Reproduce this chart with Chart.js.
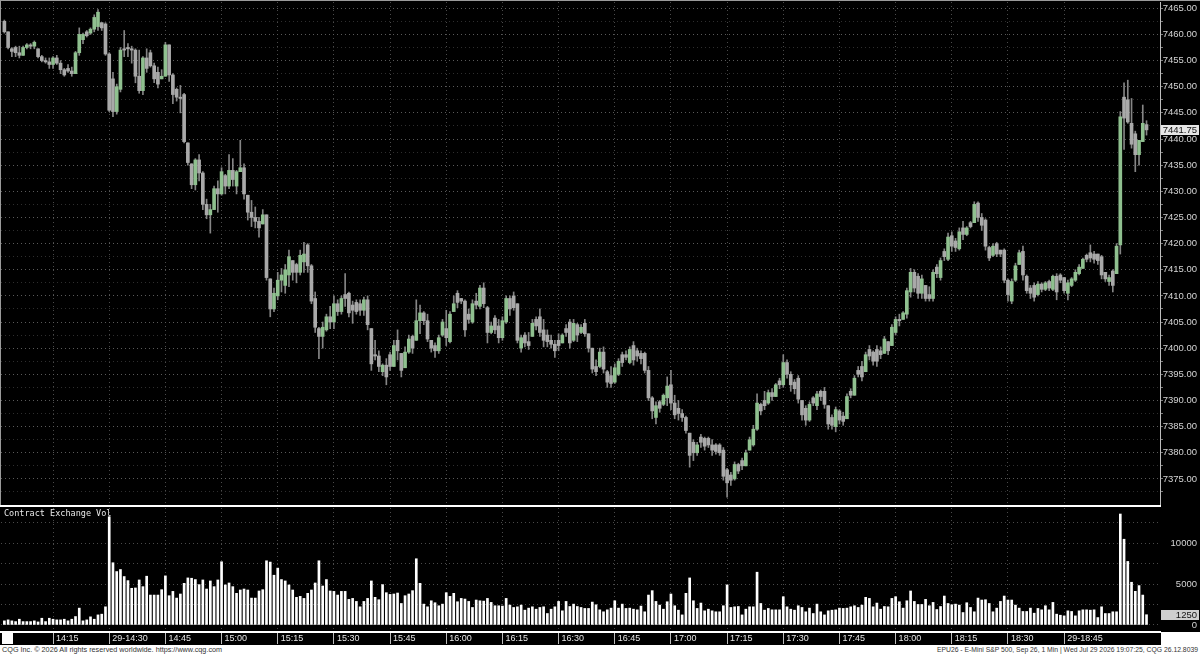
<!DOCTYPE html>
<html>
<head>
<meta charset="utf-8">
<title>EPU26 - E-Mini S&amp;P 500, 1 Min</title>
<script src="https://cdn.jsdelivr.net/npm/chart.js@4.4.1/dist/chart.umd.min.js"></script>
<style>
  body { margin: 0; background: #fff; }
  #wrap { position: relative; width: 1200px; height: 645px; background: #000; overflow: hidden; }
  #priceChart { position: absolute; left: 0; top: 0; }
  #volChart { position: absolute; left: 0; top: 506px; }
  .frame-top { position: absolute; left: 0; top: 0; width: 1200px; height: 1px; background: #9a9a9a; }
  .frame-left { position: absolute; left: 0; top: 0; width: 1px; height: 505px; background: #9a9a9a; }
  .sep { position: absolute; left: 0; top: 505px; width: 1161px; height: 2px; background: #fff; }
  .vol-title { position: absolute; left: 4px; top: 508px; color: #e8e8e8; font: 8.5px "DejaVu Sans Mono", monospace; }
  .corner { position: absolute; left: 2px; top: 633px; width: 11px; height: 11px; background: #fff; }
  .axis-blank { position: absolute; left: 1161px; top: 632px; width: 39px; height: 13px; background: #fff; }
  .footer { position: relative; width: 1200px; height: 10px; font: 7.25px "Liberation Sans", Arial, sans-serif; color: #333; line-height: 10px; }
  .footer .l { position: absolute; left: 2px; top: 0; }
  .footer .r { position: absolute; right: 2px; top: 0; font-size: 6.8px; }
</style>
</head>
<body>
<div id="wrap">
  <canvas id="priceChart" width="1200" height="505"></canvas>
  <canvas id="volChart" width="1200" height="139"></canvas>
  <div class="frame-top"></div>
  <div class="frame-left"></div>
  <div class="sep"></div>
  <div class="vol-title">Contract Exchange Vol</div>
  <div class="corner"></div>
  <div class="axis-blank"></div>
</div>
<div class="footer">
  <span class="l">CQG Inc. © 2026 All rights reserved worldwide. https://www.cqg.com</span>
  <span class="r">EPU26 - E-Mini S&amp;P 500, Sep 26, 1 Min | Wed Jul 29 2026 19:07:25, CQG 26.12.8039</span>
</div>
<script>
// one bar per minute, first bar is 14:02, last is 19:07
const firstMinute = 2

const opens = [
    7462.5, 7460.5, 7457.25, 7457.5, 7456.5, 7456, 7457.5, 7458, 7457.75, 7457.25,
    7455.75, 7455, 7454.75, 7454.25, 7455.5, 7454.5, 7453.25, 7453.5, 7453, 7452.5,
    7456.5, 7459, 7460.5, 7460.25, 7461, 7461.5, 7462.25, 7462, 7456.25, 7451.5,
    7445.25, 7449.5, 7457.25, 7457.5, 7457.25, 7457, 7452, 7449.25, 7455.5, 7456.5,
    7454, 7452.75, 7451.5, 7452, 7458, 7452.25, 7449.5, 7448, 7448.5, 7439.25,
    7435.25, 7431.25, 7436, 7433.5, 7427.5, 7425.5, 7426.5, 7430.5, 7429.5, 7433,
    7431, 7434, 7431, 7433.75, 7434.5, 7429.25, 7426, 7425, 7424.25, 7423.75,
    7425.5, 7413.25, 7407.5, 7410, 7413, 7412, 7414, 7416.75, 7416, 7414.5,
    7416.5, 7419.75, 7415.75, 7409.5, 7403.75, 7402.25, 7403.5, 7406, 7405, 7408.5,
    7407, 7410.25, 7410.5, 7408.25, 7408.75, 7408.5, 7407.25, 7409.25, 7403.75, 7398.75,
    7398.5, 7395.5, 7396.75, 7398.75, 7396.5, 7401.5, 7399, 7396.25, 7399.25, 7402.25,
    7401.5, 7405.25, 7406.75, 7405.25, 7401.5, 7400.5, 7399.5, 7402.5, 7403.75, 7401.25,
    7407, 7410.5, 7409.5, 7409, 7406.5, 7405, 7409, 7408, 7411.5, 7407.75,
    7403, 7405.75, 7404.25, 7402, 7405, 7409.5, 7410, 7408.5, 7400, 7402.5,
    7401.25, 7402.25, 7405.5, 7406, 7403.5, 7402.5, 7401.5, 7400.75, 7401.5, 7401,
    7403.75, 7405, 7401.5, 7404.5, 7403, 7404.75, 7402.75, 7400, 7396.5, 7396.5,
    7399.25, 7395.5, 7394.75, 7393.5, 7395, 7398.75, 7398.75, 7397.25, 7400.5, 7399.5,
    7399, 7399, 7395.75, 7390.5, 7386.75, 7389.75, 7389.25, 7390.5, 7393, 7389.5,
    7388.5, 7387.5, 7386.75, 7383.75, 7382, 7380, 7383, 7382.75, 7382.75, 7381.5,
    7381.5, 7381.5, 7380.5, 7376.75, 7375.75, 7375, 7377.75, 7378.5, 7377.5, 7380.5,
    7381.5, 7384.5, 7389.25, 7390, 7389.5, 7391.5, 7390.75, 7393.75, 7393, 7397.25,
    7395, 7393.5, 7394.25, 7390, 7388.5, 7386.25, 7390.5, 7389, 7391.75, 7391.75,
    7389, 7386.75, 7385, 7388, 7387, 7386.5, 7391.75, 7391, 7395.75, 7396.5,
    7395.5, 7399.75, 7399.25, 7399.75, 7399.5, 7399, 7401.25, 7400.5, 7403, 7405.5,
    7405.5, 7406.5, 7410.75, 7414.5, 7413.75, 7410.5, 7412, 7410.25, 7409.5, 7415.5,
    7413.5, 7418.5, 7417, 7421.5, 7420.5, 7419, 7423, 7421.75, 7424, 7424,
    7427.75, 7425, 7424.5, 7419.25, 7417.75, 7420, 7418.75, 7418.75, 7413, 7409,
    7413, 7416, 7418.5, 7413.75, 7411.5, 7412, 7410.25, 7412.25, 7411.25, 7412.75,
    7411.25, 7413.75, 7414, 7413.5, 7410.5, 7412, 7413, 7414.25, 7415.25, 7417.75,
    7418.25, 7418, 7418, 7417.5, 7414.5, 7412.75, 7414.75, 7414.25, 7419.75, 7448,
    7447.5, 7443, 7441, 7437, 7439.5, 7442.75
]

const highs = [
    7462.75, 7460.5, 7457.5, 7457.75, 7457.75, 7457.75, 7458.25, 7458.25, 7458.75, 7457.25,
    7456, 7455.5, 7455.5, 7455.75, 7456, 7455, 7453.5, 7454.25, 7453.75, 7456.75,
    7461.25, 7460.25, 7460.75, 7461.25, 7463.75, 7464.75, 7462.25, 7462.25, 7456.5, 7452.75,
    7450.5, 7457.5, 7460.75, 7458.25, 7457.75, 7457.25, 7457, 7455.75, 7457.25, 7457,
    7454.5, 7453.75, 7453.25, 7458.5, 7458, 7452.5, 7449.75, 7450.25, 7448.75, 7439.25,
    7435.25, 7436.25, 7437, 7433.75, 7428.5, 7427.5, 7431, 7432, 7434.5, 7433.25,
    7437, 7436.25, 7434, 7439.75, 7435.25, 7429.25, 7428.25, 7427, 7425, 7426.5,
    7425.5, 7413.25, 7411.5, 7414.5, 7415.25, 7416, 7418.75, 7416.75, 7416.25, 7418.75,
    7420.25, 7420, 7416, 7410.75, 7404, 7405, 7406.5, 7408, 7410, 7409.25,
    7410, 7414.25, 7410.75, 7409, 7409.25, 7409.25, 7409.75, 7410, 7403.75, 7401.5,
    7399.5, 7397, 7398, 7399.25, 7401.5, 7403.5, 7399, 7400.25, 7402.5, 7402.5,
    7409.25, 7408.25, 7407, 7406.5, 7401.5, 7401, 7402.5, 7405.5, 7407.25, 7407,
    7410, 7411, 7409.5, 7409.25, 7407.5, 7409.25, 7410.5, 7412, 7412.5, 7408,
    7405, 7406.25, 7405.5, 7406, 7410, 7410, 7410.75, 7408.5, 7402.5, 7403,
    7403, 7405.5, 7406, 7407.5, 7405.5, 7403.5, 7402.5, 7401.5, 7402.75, 7402.75,
    7404.5, 7405.5, 7405.5, 7404.75, 7404.5, 7405.5, 7402.75, 7400, 7397.75, 7400,
    7400.25, 7395.75, 7396.5, 7397, 7398, 7399.25, 7399.5, 7400.25, 7401.25, 7400,
    7399.5, 7399.25, 7396.5, 7390.75, 7389.75, 7390, 7391.25, 7394.5, 7395.75, 7391,
    7390, 7388.25, 7387, 7383.75, 7382.5, 7382, 7383.5, 7383, 7383, 7382.5,
    7381.75, 7381.75, 7381, 7377, 7376.25, 7378.25, 7378, 7379, 7380.5, 7383,
    7385.25, 7391.25, 7389.5, 7391.75, 7392, 7392.25, 7393.25, 7394.25, 7398.75, 7397.75,
    7395.5, 7394, 7394.75, 7390, 7389, 7389.75, 7390.75, 7391.75, 7392, 7392.5,
    7389, 7387.25, 7388.75, 7388.25, 7387.75, 7391.25, 7392.25, 7394.75, 7396.5, 7397.5,
    7399.25, 7400.5, 7399.5, 7400.5, 7400.25, 7402.25, 7401.25, 7404.5, 7406, 7406.5,
    7407, 7411.5, 7415.25, 7415, 7414.25, 7414, 7412, 7411.75, 7415, 7416,
    7417.25, 7419, 7422, 7422.25, 7421, 7423, 7424.25, 7423.25, 7424.25, 7428,
    7428, 7425.75, 7424.75, 7419.5, 7420, 7420.25, 7418.75, 7419, 7413.25, 7413.25,
    7416.25, 7418.75, 7419.5, 7414, 7412, 7412.5, 7412.75, 7412.5, 7412.75, 7413,
    7414, 7414.25, 7414.25, 7413.5, 7413, 7413.5, 7415, 7416, 7417.25, 7418,
    7419.75, 7418.5, 7418, 7417.75, 7414.5, 7414, 7415, 7420, 7445.25, 7450.75,
    7451.25, 7447.75, 7441.5, 7439.75, 7446.5, 7443.5
]

const lows = [
    7460.25, 7457.25, 7455.75, 7455.75, 7455.5, 7456, 7457.25, 7457.25, 7457.25, 7455.5,
    7454.75, 7454.5, 7453.5, 7453.5, 7454.25, 7452.5, 7452, 7452.75, 7452, 7452.5,
    7456, 7458.25, 7459.5, 7460, 7460.5, 7460.75, 7460.75, 7456, 7445.25, 7444.25,
    7444.75, 7449, 7455.75, 7455.75, 7454.5, 7450.75, 7448.75, 7448.5, 7452.75, 7453.75,
    7450.75, 7449.75, 7451.5, 7452, 7451, 7446.75, 7447.25, 7445, 7439.25, 7435,
    7430.5, 7430.25, 7432, 7426.5, 7424.75, 7422, 7426.5, 7426, 7429.25, 7429.5,
    7430.5, 7431, 7429.5, 7433.75, 7428.5, 7424.5, 7423.25, 7423, 7421.25, 7423.75,
    7413, 7406, 7407, 7409.25, 7410.75, 7410.5, 7411.75, 7413, 7412.5, 7414,
    7414.5, 7414.5, 7408.5, 7403, 7398, 7400, 7403.25, 7403.75, 7403.75, 7406.25,
    7406.5, 7408, 7406, 7404.75, 7406.5, 7406.25, 7406.25, 7403.5, 7395.75, 7397.75,
    7395.5, 7394.75, 7393, 7395.75, 7396.5, 7397.75, 7394.5, 7396.25, 7399, 7399,
    7401.5, 7402.75, 7404.5, 7401.25, 7399.25, 7398.25, 7399, 7402.25, 7400.5, 7401,
    7407, 7407.75, 7408.5, 7402.25, 7404.75, 7404.75, 7407.5, 7407.5, 7407.75, 7401,
    7402.75, 7402.75, 7401, 7401.5, 7404.75, 7406.25, 7407.25, 7401, 7399.25, 7400.25,
    7399.75, 7402.25, 7403.5, 7402.25, 7400.25, 7400.25, 7400, 7398.25, 7399.5, 7401,
    7402.25, 7400, 7401.25, 7401.25, 7402.75, 7402.25, 7399.25, 7395.25, 7394.75, 7396.25,
    7395.25, 7392.5, 7392.5, 7393.25, 7394.75, 7396.5, 7397.75, 7397, 7396.75, 7397.5,
    7397, 7395.25, 7390, 7386.5, 7385.5, 7387.75, 7389, 7389, 7388.25, 7386.5,
    7386.25, 7386, 7383.75, 7377.25, 7378.5, 7379.5, 7381, 7380.5, 7381, 7379.5,
    7379.75, 7379.5, 7374.75, 7371.5, 7373.75, 7374.75, 7376, 7376.75, 7377.5, 7380.5,
    7381.25, 7384.25, 7387.25, 7388.25, 7389.25, 7390, 7390.75, 7392.25, 7392.5, 7394.25,
    7391.75, 7391.25, 7389.5, 7386.25, 7385.25, 7386, 7389, 7388.25, 7390, 7388.5,
    7384.5, 7384.5, 7384, 7385.5, 7385.25, 7386.5, 7390.5, 7391, 7394.5, 7393.75,
    7395.5, 7397.75, 7396.75, 7396.5, 7398, 7399, 7398.75, 7400.5, 7402.5, 7404.25,
    7405.5, 7405.75, 7409.75, 7410.75, 7409.5, 7409.5, 7409, 7409, 7409, 7413.5,
    7413, 7416.75, 7416.75, 7418.5, 7418.5, 7418.75, 7420.75, 7421.5, 7423, 7424,
    7424.25, 7422.5, 7418.75, 7416.75, 7417.5, 7417.5, 7417.5, 7412.5, 7409, 7408.5,
    7412.75, 7416, 7413, 7410.5, 7409.5, 7409, 7410, 7410.75, 7411, 7411,
    7411, 7409.25, 7412.5, 7410.5, 7409.25, 7411.75, 7412.75, 7414, 7415.25, 7416.5,
    7416.5, 7416.25, 7416, 7413.25, 7412.75, 7412, 7410.75, 7414.25, 7418, 7438,
    7443, 7438.25, 7433.75, 7435, 7439.5, 7440.75
]

const closes = [
    7460.5, 7457.5, 7456.75, 7456.5, 7456, 7457.5, 7458, 7457.75, 7458.5, 7455.75,
    7455, 7454.75, 7454.25, 7455.5, 7454.5, 7453.25, 7452.25, 7453, 7452.5, 7456.5,
    7460, 7460, 7459.75, 7461, 7463.25, 7464.25, 7461.25, 7456.25, 7445.5, 7445.25,
    7450, 7457, 7457, 7457.25, 7457, 7452, 7449.25, 7455.5, 7453.5, 7454,
    7451.5, 7450.5, 7452, 7458, 7452.25, 7448.5, 7448, 7447.75, 7439.5, 7435.5,
    7431.25, 7436, 7433.5, 7427.5, 7425.5, 7426.5, 7430.5, 7429.5, 7433.75, 7431,
    7434, 7432.25, 7433.75, 7434.5, 7429.5, 7426, 7425, 7424.25, 7423, 7425.5,
    7413.5, 7407.5, 7410.5, 7413, 7414, 7415, 7417.5, 7414.5, 7414.5, 7417.75,
    7418, 7415.75, 7409, 7404, 7402.25, 7404, 7406, 7405, 7408.5, 7407,
    7409.5, 7409.5, 7406.75, 7407.25, 7407, 7407.25, 7409.25, 7404.5, 7397, 7398.5,
    7396.5, 7396.75, 7394.5, 7396.5, 7400.5, 7399.5, 7395.75, 7399.25, 7401.75, 7400,
    7405.25, 7406.75, 7405.25, 7401.75, 7400, 7399.5, 7402, 7405, 7402, 7406.5,
    7408.5, 7408.75, 7409, 7403.5, 7405.5, 7408.5, 7408.25, 7411.5, 7408.5, 7403,
    7404.25, 7403.5, 7402, 7405.25, 7409.5, 7407.5, 7407.75, 7401.5, 7402, 7401,
    7400.5, 7404.75, 7404.25, 7403, 7401.5, 7401.25, 7400.75, 7399.5, 7400.5, 7402.5,
    7403, 7401, 7404.75, 7402.5, 7404, 7402.75, 7400, 7396, 7395.5, 7399.25,
    7396, 7393.5, 7393.25, 7396.25, 7397.5, 7397.25, 7398.25, 7399.75, 7397.75, 7398.5,
    7398, 7395.75, 7390.5, 7388, 7389, 7388.5, 7391, 7392.75, 7389.5, 7387.25,
    7387.5, 7386.75, 7384.25, 7379.5, 7380, 7381.5, 7382, 7381.25, 7381.5, 7380.5,
    7380.25, 7380, 7375.5, 7374.25, 7374.75, 7377.75, 7376.5, 7377.5, 7380, 7382.5,
    7384.5, 7389.5, 7388, 7389, 7391.5, 7390.75, 7393, 7393, 7397.25, 7395,
    7393, 7392.25, 7390.25, 7387.25, 7386.25, 7389.25, 7389.5, 7391.25, 7390.75, 7389.25,
    7385.5, 7385.25, 7388.25, 7386.25, 7386, 7390.75, 7391, 7394.25, 7395, 7394.5,
    7398.75, 7398.5, 7397.5, 7397.5, 7398.75, 7401.75, 7399.5, 7404, 7405.5, 7405.25,
    7406.75, 7411, 7414.5, 7411.5, 7410.5, 7413.25, 7409.5, 7409.5, 7414.5, 7414.25,
    7416.75, 7417.5, 7421.25, 7419.5, 7419.25, 7422.25, 7421.75, 7423, 7423.25, 7427.5,
    7425, 7423.5, 7419.5, 7417.25, 7419.5, 7418, 7418, 7413, 7410.25, 7412.75,
    7415.75, 7418.25, 7414, 7411, 7410.5, 7409.75, 7412.25, 7411.25, 7412.5, 7411.5,
    7413.75, 7410.75, 7413, 7411, 7412.5, 7413.25, 7414.5, 7415.5, 7417, 7417,
    7417.25, 7417, 7416.75, 7414, 7413.25, 7413.5, 7412, 7419.5, 7444.25, 7444,
    7443.25, 7439, 7437, 7439.75, 7443, 7441.75
]

const volumes = [
    500, 620, 500, 410, 700, 410, 410, 410, 500, 370,
    820, 410, 820, 700, 620, 620, 700, 500, 700, 1030,
    2060, 500, 620, 990, 700, 1230, 1320, 2220, 13250, 7620,
    6540, 6790, 5930, 5430, 4490, 4530, 5510, 4690, 5970, 3660,
    3660, 3660, 4320, 6010, 3580, 4110, 3290, 3790, 5100, 5760,
    5720, 5560, 4940, 5510, 4400, 5390, 4690, 5510, 7740, 4900,
    5140, 4690, 3870, 4280, 4400, 4280, 3290, 3290, 4160, 4320,
    7860, 7700, 6090, 6960, 5560, 5390, 4900, 4280, 3380, 3500,
    3250, 3870, 4280, 5140, 7860, 4770, 5560, 4160, 4110, 3660,
    4110, 4110, 3130, 3250, 2880, 2220, 2880, 3250, 5390, 3380,
    3090, 4940, 3950, 3740, 3790, 3910, 2630, 3580, 3790, 4200,
    8110, 5100, 2550, 2220, 2960, 2720, 2350, 2550, 3950, 3500,
    3870, 2840, 3250, 3170, 2880, 2140, 3050, 2960, 2920, 3250,
    2760, 2350, 2350, 2310, 3250, 2430, 2140, 2220, 2430, 1810,
    2060, 2220, 1930, 2140, 2220, 1400, 1930, 2220, 2880, 1730,
    2880, 2260, 2550, 2260, 2140, 2020, 2020, 2800, 2470, 1850,
    1610, 1850, 2060, 2960, 2060, 2550, 2020, 2060, 1930, 1850,
    2310, 1610, 3660, 4200, 2880, 2430, 1930, 2840, 3790, 2350,
    1810, 1230, 3870, 5760, 2960, 2020, 2680, 1730, 1930, 1730,
    1610, 1610, 2350, 4900, 2140, 2220, 2260, 1230, 1930, 2220,
    2220, 6460, 2630, 1810, 2020, 1850, 1850, 1850, 3460, 2220,
    1930, 1810, 2350, 2140, 1610, 2060, 1400, 2550, 1610, 1230,
    1730, 1810, 1850, 2060, 2020, 2060, 2220, 2350, 2140, 2430,
    3380, 3250, 2220, 2680, 1930, 2260, 2220, 3250, 3460, 2840,
    2060, 2960, 4160, 2880, 2510, 2510, 3130, 2350, 2760, 1890,
    2260, 3540, 2630, 2470, 2550, 2430, 1520, 2720, 2140, 1610,
    3290, 3050, 3090, 2630, 1610, 2060, 2880, 3540, 3050, 3050,
    2430, 2060, 1650, 1650, 2060, 1440, 2020, 1850, 2350, 1850,
    2760, 1320, 1190, 1110, 1730, 1650, 1110, 1730, 1850, 1850,
    1810, 1850, 905, 2220, 1400, 1400, 1610, 1610, 13590, 10500,
    7780, 5230, 4120, 4820, 3660, 1250
]

// x axis: minutes after 14:00
const timeTickMinutes = [15, 30, 45, 60, 75, 90, 105, 120, 135, 150, 165, 180, 195, 210, 225, 240, 255, 270, 285]
const timeTickLabels = ['14:15', '29-14:30', '14:45', '15:00', '15:15', '15:30', '15:45', '16:00', '16:15',
    '16:30', '16:45', '17:00', '17:15', '17:30', '17:45', '18:00', '18:15', '18:30', '29-18:45']

const priceLabels = [7375, 7380, 7385, 7390, 7395, 7400, 7405, 7410, 7415, 7420,
    7425, 7430, 7435, 7440, 7445, 7450, 7455, 7460, 7465]
const volumeLabels = [0, 5000, 10000]
const volumeGrid = [0, 2500, 5000, 7500, 10000, 12500]

const upColor = '#8fc08f'
const downColor = '#a9a9a9'
const wickColor = '#858585'
const gridDots = [1, 3]
const axisFont = { family: 'Liberation Sans', size: 9.5 }
const xMin = 1.1
const xMax = 310.6

// half-way lines between the labelled prices
const priceGrid = []
priceLabels.forEach(p => { priceGrid.push(p - 2.5); priceGrid.push(p) })

const lastValueBox = {
    id: 'lastValueBox',
    afterDraw(chart, args, opts) {
        if (!opts.text) return
        const { ctx, chartArea } = chart
        const y = Math.round(chart.scales.y.getPixelForValue(opts.value))
        ctx.save()
        ctx.fillStyle = opts.fill
        ctx.fillRect(chartArea.right + 1, y - 5, chart.width - chartArea.right - 2, 10)
        ctx.fillStyle = '#111'
        ctx.font = '9.5px "Liberation Sans"'
        ctx.textAlign = 'right'
        ctx.textBaseline = 'middle'
        ctx.fillText(opts.text, chart.width - 3, y + 0.5)
        ctx.restore()
    }
}

// keep the plot area where the reference has it: no room reserved for edge labels
function fixedWidth(scale) {
    scale.width = 37
    scale.paddingTop = 0
    scale.paddingBottom = 0
}

renderPrice()
renderVolume()

function renderPrice() {
    const ctx = document.getElementById('priceChart')
    const last = closes.length - 1

    new Chart(ctx, {
        type: 'bar',
        data: {
            datasets: [{
                label: 'wick',
                data: lows.map((low, i) => ({ x: firstMinute + i, y: [low, highs[i]] })),
                backgroundColor: wickColor,
                barThickness: 1,
                grouped: false,
                order: 2
            }, {
                label: 'body',
                data: opens.map((open, i) => ({ x: firstMinute + i, y: [open, closes[i]] })),
                backgroundColor: opens.map((open, i) => closes[i] > open ? upColor : downColor),
                barThickness: 3,
                minBarLength: 1,
                grouped: false,
                order: 1
            }]
        },
        options: {
            responsive: false,
            animation: false,
            devicePixelRatio: 1,
            layout: { padding: { top: 2, bottom: 1, left: 1, right: 3 } },
            plugins: {
                legend: { display: false },
                tooltip: { enabled: false },
                lastValueBox: { value: closes[last], text: closes[last].toFixed(2), fill: '#e6e6e6' }
            },
            scales: {
                x: {
                    type: 'linear',
                    offset: false,
                    min: xMin,
                    max: xMax,
                    afterBuildTicks: scale => { scale.ticks = timeTickMinutes.map(v => ({ value: v })) },
                    afterFit: scale => { scale.height = 0; scale.paddingLeft = 0; scale.paddingRight = 0 },
                    ticks: { display: false },
                    grid: { color: '#4a4a4a', drawTicks: false, offset: false },
                    border: { display: false, dash: gridDots }
                },
                y: {
                    position: 'right',
                    min: 7370.2,
                    max: 7466.2,
                    afterBuildTicks: scale => { scale.ticks = priceGrid.map(v => ({ value: v })) },
                    afterFit: fixedWidth,
                    ticks: {
                        autoSkip: false,
                        crossAlign: 'far',
                        color: '#d4d4d4',
                        font: axisFont,
                        callback: v => priceLabels.includes(v) ? v.toFixed(2) : ''
                    },
                    grid: {
                        color: c => (c.tick && priceLabels.includes(c.tick.value)) ? '#5a5a5a' : '#2e2e2e',
                        tickLength: 3,
                        tickColor: '#7a7a7a'
                    },
                    border: { display: true, color: '#bdbdbd', dash: gridDots }
                }
            }
        },
        plugins: [lastValueBox]
    })
}

function renderVolume() {
    const ctx = document.getElementById('volChart')
    const last = volumes.length - 1

    new Chart(ctx, {
        type: 'bar',
        data: {
            datasets: [{
                label: 'Contract Exchange Vol',
                data: volumes.map((v, i) => ({ x: firstMinute + i, y: v })),
                backgroundColor: '#ffffff',
                barThickness: 2
            }]
        },
        options: {
            responsive: false,
            animation: false,
            devicePixelRatio: 1,
            layout: { padding: { top: 2, bottom: 0, left: 1, right: 3 } },
            plugins: {
                legend: { display: false },
                tooltip: { enabled: false },
                lastValueBox: { value: volumes[last], text: String(volumes[last]), fill: '#cfcfcf' }
            },
            scales: {
                x: {
                    type: 'linear',
                    offset: false,
                    min: xMin,
                    max: xMax,
                    afterBuildTicks: scale => { scale.ticks = timeTickMinutes.map(v => ({ value: v })) },
                    afterFit: scale => { scale.height = 13; scale.paddingLeft = 0; scale.paddingRight = 0 },
                    ticks: {
                        autoSkip: false,
                        maxRotation: 0,
                        align: 'start',
                        labelOffset: 3,
                        padding: -11,
                        color: '#e6e6e6',
                        font: { family: 'Liberation Sans', size: 9 },
                        callback: (v, i) => timeTickLabels[i]
                    },
                    grid: { color: '#4a4a4a', tickLength: 12, tickColor: '#bdbdbd', offset: false },
                    border: { display: true, color: '#ffffff', width: 2, dash: gridDots }
                },
                y: {
                    position: 'right',
                    min: -865,
                    max: 14326,
                    afterBuildTicks: scale => { scale.ticks = volumeGrid.map(v => ({ value: v })) },
                    afterFit: fixedWidth,
                    ticks: {
                        autoSkip: false,
                        crossAlign: 'far',
                        color: '#d4d4d4',
                        font: axisFont,
                        callback: v => volumeLabels.includes(v) ? String(v) : ''
                    },
                    grid: { color: '#4a4a4a', drawTicks: false },
                    border: { display: false, dash: gridDots }
                }
            }
        },
        plugins: [lastValueBox]
    })
}
</script>
</body>
</html>
